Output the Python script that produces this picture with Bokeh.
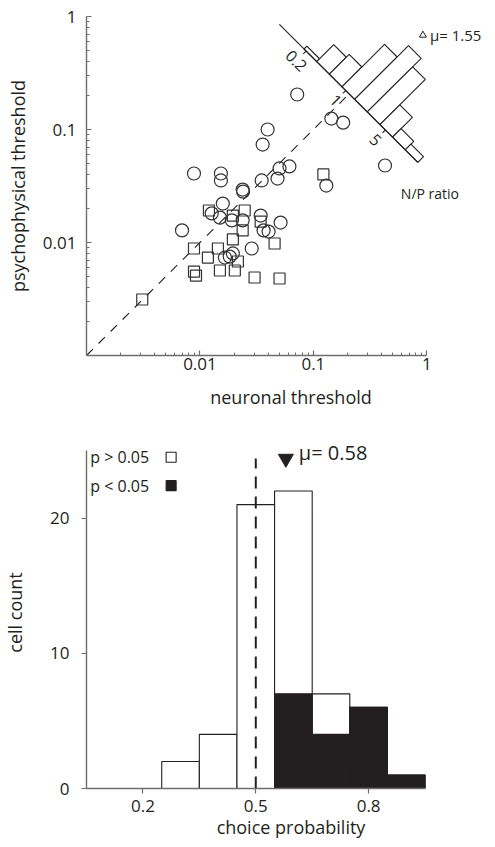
import math
from bokeh.plotting import figure
from bokeh.layouts import column
from bokeh.models import FixedTicker, Label, Range1d, CustomJSTickFormatter
from bokeh.embed import file_html
from bokeh.resources import INLINE

FONT = "Open Sans"
INK = "#231f20"
AXIS_GREY = "#6e6e6e"

# ---------------- top panel: neuronal vs psychophysical threshold ----------------
circle_neuronal = [0.072, 0.144, 0.183, 0.0395, 0.0357, 0.428, 0.130, 0.0615, 0.0503, 0.0483,
                   0.035, 0.0238, 0.0240, 0.00886, 0.0153, 0.0153, 0.0159, 0.0127, 0.0150, 0.0191,
                   0.0238, 0.0343, 0.0514, 0.0364, 0.0403, 0.00695, 0.0286, 0.0195, 0.0166, 0.0183]
circle_psycho = [0.204, 0.125, 0.115, 0.100, 0.0736, 0.048, 0.0319, 0.0471, 0.0452, 0.0368,
                 0.0354, 0.0294, 0.0282, 0.0408, 0.0408, 0.0354, 0.0221, 0.0181, 0.0166, 0.0157,
                 0.0157, 0.0173, 0.0150, 0.0128, 0.0125, 0.0128, 0.00885, 0.0080, 0.00736, 0.0075]
square_neuronal = [0.1225, 0.012, 0.0195, 0.0248, 0.0238, 0.0195, 0.0343, 0.0144, 0.01175, 0.00886,
                   0.0216, 0.0203, 0.0150, 0.00886, 0.00923, 0.0303, 0.0503, 0.0455, 0.0031]
square_psycho = [0.040, 0.0192, 0.0173, 0.0192, 0.0128, 0.01064, 0.0153, 0.00885, 0.00736, 0.00885,
                 0.00679, 0.00565, 0.00565, 0.00553, 0.0051, 0.0049, 0.0048, 0.0098, 0.00313]
threshold_ticks = [0.01, 0.1, 1]
threshold_limits = [0.001, 1]
unity_line = [0.001, 0.2]

# N/P ratio histogram (log10 ratio bin edges) drawn on the rotated axis
np_bin_edges = [-0.735, -0.512, -0.289, -0.066, 0.157, 0.380, 0.603, 0.826, 1.049, 1.272]
np_counts = [1, 6, 7, 15, 19, 16, 7, 3, 2]
np_ticks = [0.2, 1, 5]
np_tick_labels = ["0.2", "1", "5"]
np_axis_limits = [0.0676, 18.7]
np_mean = 1.55

# ---------------- bottom panel: choice probability ----------------
cp_bin_edges = [0.05, 0.15, 0.25, 0.35, 0.45, 0.55, 0.65, 0.75, 0.85, 0.95]
cp_counts_all = [0, 0, 2, 4, 21, 22, 7, 6, 1]
cp_counts_sig = [0, 0, 0, 0, 0, 7, 4, 6, 1]
cp_ticks = [0.2, 0.5, 0.8]
count_ticks = [0, 10, 20]
count_limits = [0, 25]
cp_chance = 0.5
cp_mean = 0.58


def style_axis(ax, tick_in, tick_out, minor_in, label_size="17px", title_size="18px"):
    ax.axis_line_color = AXIS_GREY
    ax.axis_line_width = 1.4
    ax.major_tick_line_color = AXIS_GREY
    ax.minor_tick_line_color = AXIS_GREY
    ax.major_tick_line_width = 1.2
    ax.major_tick_in = tick_in
    ax.major_tick_out = tick_out
    ax.minor_tick_in = minor_in
    ax.minor_tick_out = 0
    ax.major_label_text_font = FONT
    ax.major_label_text_font_size = label_size
    ax.major_label_text_color = INK
    ax.axis_label_text_font = FONT
    ax.axis_label_text_font_style = "normal"
    ax.axis_label_text_font_size = title_size
    ax.axis_label_text_color = INK
    ax.formatter = CustomJSTickFormatter(code="return String(tick);")


# both frames run from x=84 to the right edge (495); axes are bounded to their data limits
FRAME_W = 495 - 84
x_view_max = 10 ** (FRAME_W / 114 - 3)
p1 = figure(width=495, height=418, x_axis_type="log", y_axis_type="log",
            x_range=Range1d(threshold_limits[0], x_view_max), y_range=Range1d(*threshold_limits),
            output_backend="svg", toolbar_location=None,
            min_border_left=84, min_border_right=0, min_border_top=16, min_border_bottom=63)
p1.outline_line_color = None
p1.grid.visible = False
minor = [k * 10.0 ** e for e in (-3, -2, -1) for k in range(2, 10)]
for ax in (p1.xaxis[0], p1.yaxis[0]):
    style_axis(ax, 5, 0, 3)
    ax.ticker = FixedTicker(ticks=threshold_ticks, minor_ticks=minor)
    ax.bounds = tuple(threshold_limits)
p1.xaxis[0].axis_label = "neuronal threshold"
p1.yaxis[0].axis_label = "psychophysical threshold"
p1.xaxis[0].major_label_standoff = 2
p1.yaxis[0].major_label_standoff = 10
p1.xaxis[0].axis_label_standoff = 12
p1.yaxis[0].axis_label_standoff = 10

p1.line(unity_line, unity_line, line_color=INK, line_width=1.1, line_dash="9 8")
p1.scatter(circle_neuronal, circle_psycho, marker="circle", size=13, fill_color=None,
           line_color="#333333", line_width=1.2)
p1.scatter(square_neuronal, square_psycho, marker="square", size=11, fill_color=None,
           line_color="#333333", line_width=1.2)

# rotated N/P ratio axis, perpendicular to the unity line
CX, CY = -0.715, -0.655      # log10 location of ratio 1
V_PER_COUNT = 0.05


def np_point(u, v):
    return 10 ** (CX + (u + v) / 2), 10 ** (CY + (v - u) / 2)


xs, ys = [], []
for lo, hi, c in zip(np_bin_edges[:-1], np_bin_edges[1:], np_counts):
    h = c * V_PER_COUNT
    pts = [np_point(lo, 0), np_point(lo, h), np_point(hi, h), np_point(hi, 0)]
    xs.append([q[0] for q in pts])
    ys.append([q[1] for q in pts])
p1.patches(xs, ys, fill_color="white", line_color=INK, line_width=1.1)

a0 = np_point(math.log10(np_axis_limits[0]), 0)
a1 = np_point(math.log10(np_axis_limits[1]), 0)
p1.line([a0[0], a1[0]], [a0[1], a1[1]], line_color=INK, line_width=1.1)

tx0, ty0, tx1, ty1, lx, ly = [], [], [], [], [], []
for t in np_ticks:
    u = math.log10(t)
    s0 = np_point(u, 0)
    s1 = np_point(u, -0.05)
    lab = np_point(u, -0.17)
    tx0.append(s0[0]); ty0.append(s0[1]); tx1.append(s1[0]); ty1.append(s1[1])
    lx.append(lab[0]); ly.append(lab[1])
p1.segment(tx0, ty0, tx1, ty1, line_color=INK, line_width=1.1)
p1.text(lx, ly, text=np_tick_labels, angle=-math.pi / 4, text_align="center",
        text_baseline="middle", text_font={"value": FONT}, text_font_size={"value": "16px"},
        text_color=INK)

mx, my = np_point(math.log10(np_mean), 1.17)
p1.scatter([mx], [my], marker="triangle", size=7, fill_color=None, line_color=INK, line_width=1)
p1.add_layout(Label(x=mx, y=my, x_offset=7, text="\u03bc= 1.55", text_font=FONT,
                    text_font_size="15px", text_baseline="middle", text_color=INK))
p1.add_layout(Label(x=0.59, y=0.0272, text="N/P ratio", text_font=FONT,
                    text_font_size="14px", text_baseline="middle", text_color=INK))

# ---------------- bottom panel ----------------
y_view_max = count_limits[1] + 14 / 13.52
x2_view_max = cp_bin_edges[0] + FRAME_W / 378
p2 = figure(width=495, height=429, x_range=Range1d(cp_bin_edges[0], x2_view_max),
            y_range=Range1d(count_limits[0], y_view_max), output_backend="svg",
            toolbar_location=None,
            min_border_left=84, min_border_right=0, min_border_top=18, min_border_bottom=59)
p2.outline_line_color = None
p2.grid.visible = False
style_axis(p2.xaxis[0], 0, 5, 0)
style_axis(p2.yaxis[0], 0, 5, 0)
p2.xaxis[0].ticker = FixedTicker(ticks=cp_ticks, minor_ticks=[])
p2.yaxis[0].ticker = FixedTicker(ticks=count_ticks, minor_ticks=[])
p2.xaxis[0].bounds = (cp_bin_edges[0], cp_bin_edges[-1])
p2.yaxis[0].bounds = tuple(count_limits)
p2.xaxis[0].axis_label = "choice probability"
p2.yaxis[0].axis_label = "cell count"
p2.xaxis[0].major_label_standoff = 6
p2.yaxis[0].major_label_standoff = 12
p2.xaxis[0].axis_label_standoff = 0
p2.yaxis[0].axis_label_standoff = 20

lefts = cp_bin_edges[:-1]
rights = cp_bin_edges[1:]
all_l = [l for l, c in zip(lefts, cp_counts_all) if c > 0]
all_r = [r for r, c in zip(rights, cp_counts_all) if c > 0]
all_t = [c for c in cp_counts_all if c > 0]
sig_l = [l for l, c in zip(lefts, cp_counts_sig) if c > 0]
sig_r = [r for r, c in zip(rights, cp_counts_sig) if c > 0]
sig_t = [c for c in cp_counts_sig if c > 0]
p2.quad(left=all_l, right=all_r, bottom=0, top=all_t, fill_color="white",
        line_color=INK, line_width=1.1)
p2.quad(left=sig_l, right=sig_r, bottom=0, top=sig_t, fill_color=INK,
        line_color=INK, line_width=1.1)

p2.line([cp_chance, cp_chance], [0, 24.4], line_color=INK, line_width=2, line_dash="12 8")
p2.scatter([cp_mean], [24.4], marker="inverted_triangle", size=15, fill_color=INK, line_color=INK)
p2.add_layout(Label(x=cp_mean, y=24.4, x_offset=13, y_offset=6, text="\u03bc= 0.58", text_font=FONT,
                    text_font_size="20px", text_baseline="middle", text_color=INK))

p2.add_layout(Label(x=0.06, y=24.5, text="p > 0.05", text_font=FONT, text_font_size="16px",
                    text_baseline="middle", text_color=INK))
p2.add_layout(Label(x=0.06, y=22.4, text="p < 0.05", text_font=FONT, text_font_size="16px",
                    text_baseline="middle", text_color=INK))
p2.scatter([0.275], [24.5], marker="square", size=10, fill_color="white", line_color=INK, line_width=1.1)
p2.scatter([0.275], [22.4], marker="square", size=10, fill_color=INK, line_color=INK, line_width=1.1)

layout = column(p1, p2)
open("out.html", "w").write(file_html(layout, INLINE))
